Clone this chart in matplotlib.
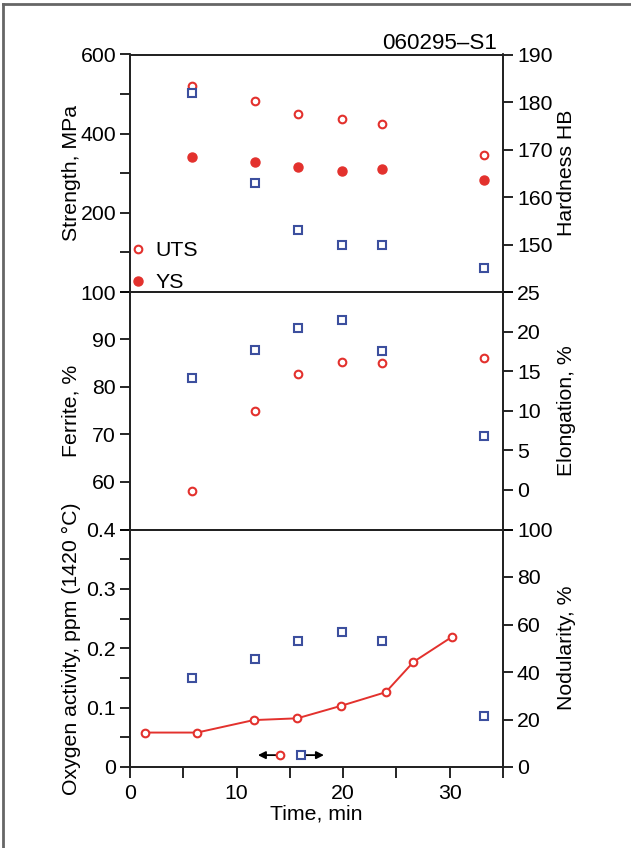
import matplotlib
matplotlib.use("Agg")
import matplotlib.pyplot as plt
from matplotlib.lines import Line2D

plt.rcParams['font.family'] = ['Liberation Sans', 'DejaVu Sans']

RED = '#e3312d'
BLUE = '#3c4f9e'

# ---- data ----
time_pts = [5.8, 11.7, 15.8, 19.9, 23.6, 33.2]
uts = [521, 483, 450, 437, 424, 346]
ys = [340, 328, 316, 305, 310, 283]
hardness = [182, 163, 153, 150, 150, 145]
ferrite = [58.2, 74.9, 82.7, 85.3, 85.0, 86.0]
elongation = [14.1, 17.7, 20.5, 21.5, 17.5, 6.8]
oxy_time = [1.4, 6.3, 11.6, 15.7, 19.8, 24.0, 26.6, 30.2]
oxygen = [0.058, 0.058, 0.079, 0.082, 0.103, 0.126, 0.177, 0.219]
nodularity = [37.3, 45.4, 53.2, 56.7, 53.0, 21.5]
key_circle = (14.05, 0.02, 12.0)
key_square = (16.05, 0.02, 18.2)
sample_id = '060295\u2013S1'

FS = 15.3
W, H = 631, 848
fig = plt.figure(figsize=(W / 100, H / 100), dpi=100)

left = 130 / W
width = (503 - 130) / W
ph = 237.5 / H
b3 = 1 - 767 / H
b2 = b3 + ph
b1 = b2 + ph

def style(ax):
    ax.tick_params(axis='y', direction='out', length=7, width=1.2, labelsize=FS, pad=3)
    for s in ax.spines.values():
        s.set_linewidth(1.3)
        s.set_color('#222222')

ax1 = fig.add_axes([left, b1, width, ph])
ax2 = fig.add_axes([left, b2, width, ph], sharex=ax1)
ax3 = fig.add_axes([left, b3, width, ph], sharex=ax1)
ax1r = ax1.twinx()
ax2r = ax2.twinx()
ax3r = ax3.twinx()
for a in (ax1, ax2, ax3, ax1r, ax2r, ax3r):
    style(a)
    a.set_xlim(0, 35)

for a in (ax1, ax2, ax1r, ax2r):
    a.tick_params(axis='x', bottom=False, labelbottom=False)
ax3.tick_params(axis='x', direction='out', length=8, width=1.2, labelsize=FS, pad=4)
ax3.set_xticks([0, 5, 10, 15, 20, 25, 30, 35])
ax3.set_xticklabels(['0', '', '10', '', '20', '', '30', ''])
ax3.set_xlabel('Time, min', fontsize=FS, labelpad=1)

ms = 5.5
# top panel
ax1.plot(time_pts, uts, 'o', mfc='white', mec=RED, mew=1.5, ms=ms, zorder=3)
ax1.plot(time_pts, ys, 'o', mfc=RED, mec=RED, ms=ms + 1, zorder=3)
ax1r.plot(time_pts, hardness, 's', mfc='white', mec=BLUE, mew=1.5, ms=ms, zorder=3)
ax1.set_ylim(0, 600)
ax1.set_yticks([0, 100, 200, 300, 400, 500, 600])
ax1.set_yticklabels(['', '', '200', '', '400', '', '600'])
ax1r.set_ylim(140, 190)
ax1r.set_yticks([140, 150, 160, 170, 180, 190])
ax1r.set_yticklabels(['', '150', '160', '170', '180', '190'])
ax1.set_ylabel('Strength, MPa', fontsize=FS)
ax1r.set_ylabel('Hardness HB', fontsize=FS)
ax1.text(0.985, 1.004, sample_id, transform=ax1.transAxes, ha='right', va='bottom', fontsize=FS + 0.8)

handles = [Line2D([], [], ls='none', marker='o', mfc='white', mec=RED, mew=1.5, ms=ms),
           Line2D([], [], ls='none', marker='o', mfc=RED, mec=RED, ms=ms + 1)]
fig.legend(handles, ['UTS', 'YS'], loc='lower left', frameon=False, fontsize=FS,
           handlelength=0.6, handletextpad=0.5, borderaxespad=0.0, borderpad=0.0,
           labelspacing=0.6, bbox_to_anchor=(0.005, 0.0), bbox_transform=ax1.transAxes)

# middle panel
ax2.plot(time_pts, ferrite, 'o', mfc='white', mec=RED, mew=1.5, ms=ms, zorder=3)
ax2r.plot(time_pts, elongation, 's', mfc='white', mec=BLUE, mew=1.5, ms=ms, zorder=3)
ax2.set_ylim(50, 100)
ax2.set_yticks([50, 60, 70, 80, 90, 100])
ax2.set_yticklabels(['', '60', '70', '80', '90', '100'])
ax2r.set_ylim(-5, 25)
ax2r.set_yticks([-5, 0, 5, 10, 15, 20, 25])
ax2r.set_yticklabels(['', '0', '5', '10', '15', '20', '25'])
ax2.set_ylabel('Ferrite, %', fontsize=FS)
ax2r.set_ylabel('Elongation, %', fontsize=FS)

# bottom panel
ax3.plot(oxy_time, oxygen, '-o', color=RED, lw=1.4, mfc='white', mec=RED, mew=1.5, ms=ms, zorder=3)
ax3r.plot(time_pts, nodularity, 's', mfc='white', mec=BLUE, mew=1.5, ms=ms, zorder=3)
ax3.set_ylim(0, 0.4)
ax3.set_yticks([0, 0.05, 0.1, 0.15, 0.2, 0.25, 0.3, 0.35, 0.4])
ax3.set_yticklabels(['0', '', '0.1', '', '0.2', '', '0.3', '', '0.4'])
ax3r.set_ylim(0, 100)
ax3r.set_yticks([0, 20, 40, 60, 80, 100])
ax3.set_ylabel('Oxygen activity, ppm (1420 \u00b0C)', fontsize=FS)
ax3r.set_ylabel('Nodularity, %', fontsize=FS)

# key markers with arrows
cx, cy, cend = key_circle
ax3.annotate('', xy=(cend, cy), xytext=(cx, cy),
             arrowprops=dict(arrowstyle='-|>', color='black', lw=1.3, mutation_scale=11, shrinkA=3, shrinkB=0))
ax3.plot([cx], [cy], 'o', mfc='white', mec=RED, mew=1.5, ms=ms, zorder=4)
sx, sy, send = key_square
ax3.annotate('', xy=(send, sy), xytext=(sx, sy),
             arrowprops=dict(arrowstyle='-|>', color='black', lw=1.3, mutation_scale=11, shrinkA=3, shrinkB=0))
ax3.plot([sx], [sy], 's', mfc='white', mec=BLUE, mew=1.5, ms=ms, zorder=4)

# align y labels
for a in (ax1, ax2, ax3):
    a.yaxis.set_label_coords(-0.132, 0.5)
for a in (ax1r, ax2r, ax3r):
    a.yaxis.set_label_coords(1.145, 0.5)

# figure frame (top and left edges)
fig.add_artist(Line2D([3 / W, 3 / W], [0, 1 - 4 / H], transform=fig.transFigure, color='#666666', lw=2))
fig.add_artist(Line2D([3 / W, 1], [1 - 4 / H, 1 - 4 / H], transform=fig.transFigure, color='#666666', lw=2))

fig.savefig('out.png', dpi=100)
